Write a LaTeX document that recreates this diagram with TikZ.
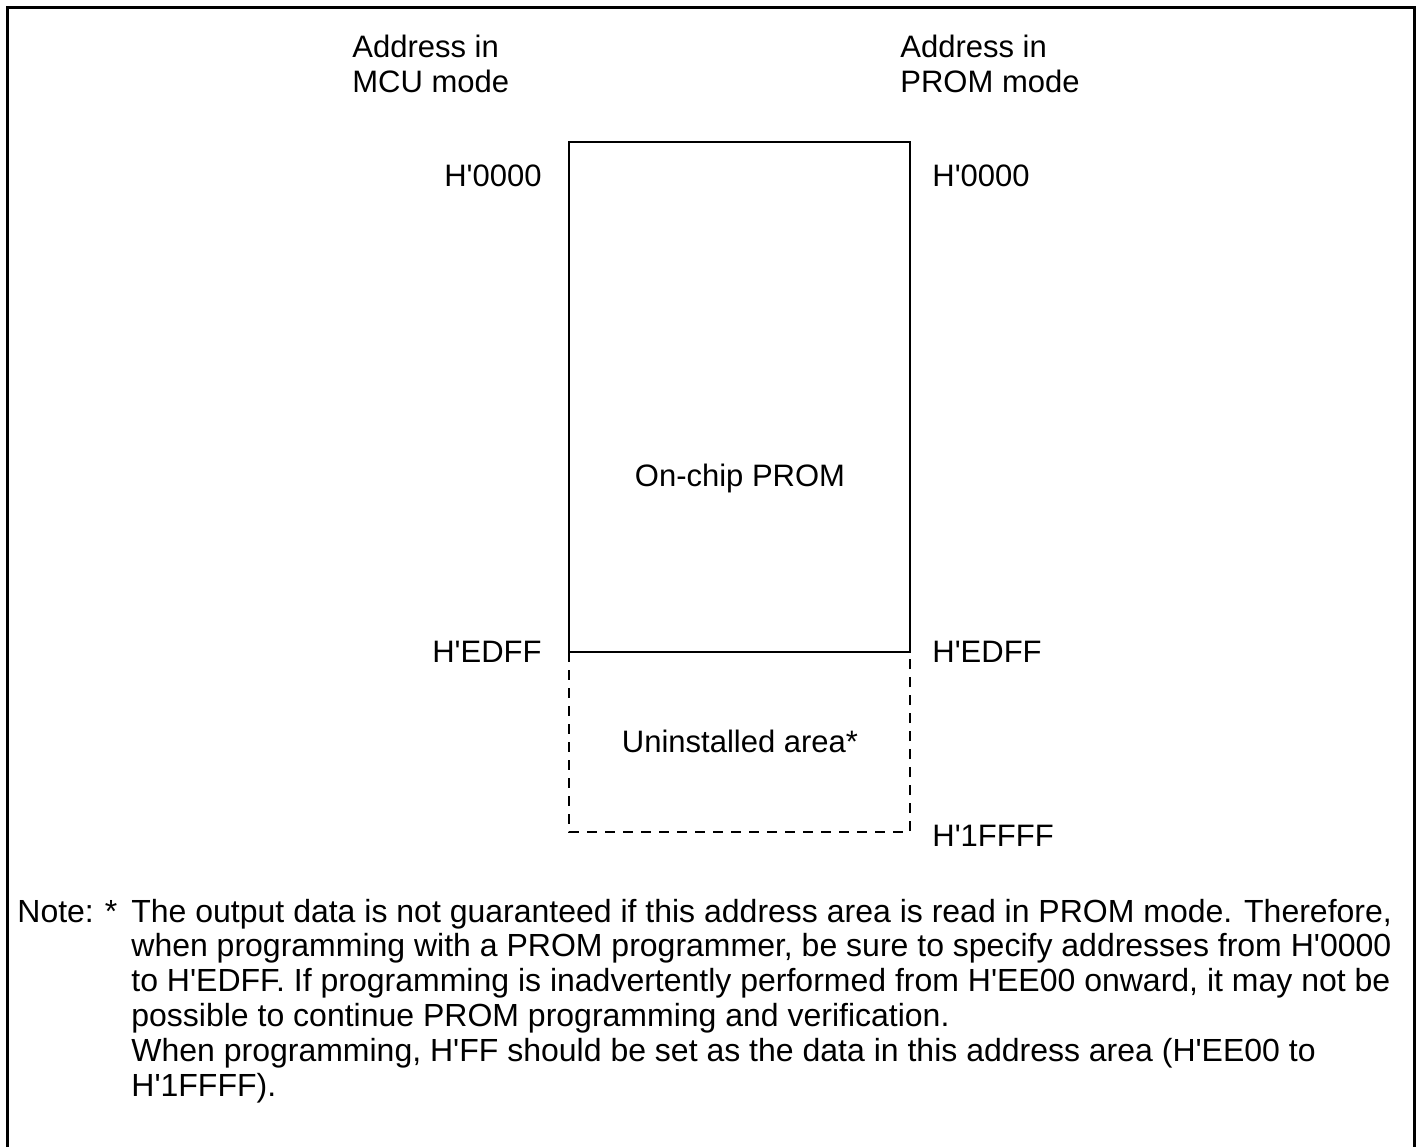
\documentclass[tikz,border=0pt]{standalone}
\usepackage{fontspec}
\newfontfamily\arialf{Liberation Sans}
\begin{document}
\begin{tikzpicture}[x=0.5pt,y=-0.5pt,
  lbl/.style={inner sep=0pt, font=\arialf\fontsize{15.5}{17.5}\selectfont},
  notefont/.style={inner sep=0pt, font=\arialf\fontsize{16}{17.45}\selectfont},
  frameline/.style={line width=1.5pt},
  solidedge/.style={line width=1.3pt},
  dashedge/.style={line width=1.3pt, dash pattern=on 5pt off 4pt}]
\useasboundingbox (0,0) rectangle (1417,1147);
% outer frame (open at bottom)
\draw[frameline] (7.5,1147) -- (7.5,7.5) -- (1414.3,7.5) -- (1414.3,1147);
% memory map coordinates
\coordinate (tl) at (569,142);
\coordinate (tr) at (910,142);
\coordinate (ml) at (569,652);
\coordinate (mr) at (910,652);
\coordinate (bl) at (569,832);
\coordinate (br) at (910,832);
\draw[solidedge] (ml) -- (tl) -- (tr) -- (mr) -- cycle;
\draw[dashedge] (ml) -- (bl) -- (br) -- (mr);
% headings
\node[lbl, anchor=base west] (hmcu) at (352,57) {\begin{tabular}[t]{@{}l@{}}Address in\\MCU mode\end{tabular}};
\node[lbl, anchor=base west] (hprom) at (900,57) {\begin{tabular}[t]{@{}l@{}}Address in\\PROM mode\end{tabular}};
% addresses
\node[lbl, anchor=base east] (a0l) at (542,186) {H'0000};
\node[lbl, anchor=base west] (a0r) at (932,186) {H'0000};
\node[lbl, anchor=base east] (a1l) at (542,662) {H'EDFF};
\node[lbl, anchor=base west] (a1r) at (932,662) {H'EDFF};
\node[lbl, anchor=base west] (a2r) at (932,846) {H'1FFFF};
% areas
\node[lbl, anchor=base] (prom) at (740,486) {On-chip PROM};
\node[lbl, anchor=base] (unins) at (740,752) {Uninstalled area*};
% note
\node[notefont, anchor=base west] (notelbl) at (17,922) {Note:};
\node[notefont, anchor=base] (notestar) at (111,922) {*};
\node[notefont, anchor=base west] (notetext) at (131,922) {\begin{tabular}[t]{@{}l@{}}The output data is not guaranteed if this address area is read in PROM mode. Therefore,\\
when programming with a PROM programmer, be sure to specify addresses from H'0000\\
to H'EDFF. If programming is inadvertently performed from H'EE00 onward, it may not be\\
possible to continue PROM programming and verification.\\
When programming, H'FF should be set as the data in this address area (H'EE00 to\\
H'1FFFF).\end{tabular}};
\end{tikzpicture}
\end{document}
